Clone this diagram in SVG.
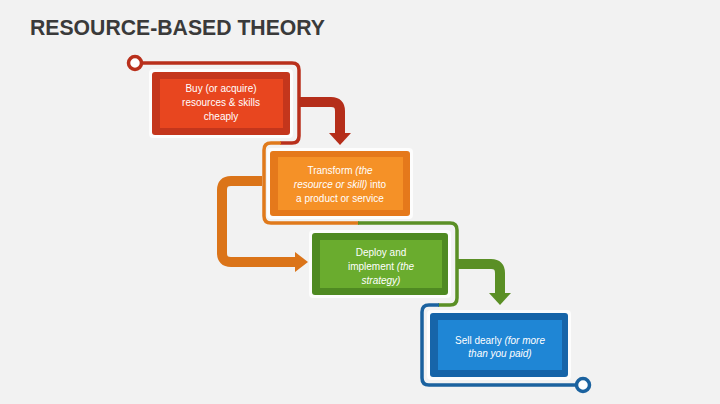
<svg xmlns="http://www.w3.org/2000/svg" width="720" height="404" viewBox="0 0 720 404">
<style>
.t{font-family:"Liberation Sans",Arial,sans-serif;font-size:10px;fill:#ffffff;text-anchor:middle}
.i{font-style:italic}
.ln{fill:none;stroke-width:3.5;stroke-linecap:butt}
.ar{fill:none;stroke-width:10}
.halo{fill:#ffffff;opacity:0.8}
</style>
<rect width="720" height="404" fill="#f2f2f2"/>
<text x="30" y="35" font-family="Liberation Sans,Arial,sans-serif" font-weight="bold" font-size="22" fill="#3a3a3a" textLength="295" lengthAdjust="spacingAndGlyphs">RESOURCE-BASED THEORY</text>
<g id="connectors">
<path class="ln" stroke="#b9301c" d="M141 63 H292 Q299 63 299 70 V136 Q299 143 292 143 H280"/>
<path class="ln" stroke="#e07a1c" d="M281 143 H271 Q264 143 264 150 V216 Q264 223 271 223 H359"/>
<path class="ln" stroke="#5a8f25" d="M358 223 H450 Q457 223 457 230 V298 Q457 305 450 305 H438"/>
<path class="ln" stroke="#1b629f" d="M439 305 H429 Q422 305 422 312 V378 Q422 385 429 385 H577"/>
<circle cx="135" cy="63" r="6.5" fill="#ffffff" stroke="#b9301c" stroke-width="3.5"/>
<circle cx="583" cy="385" r="6.5" fill="#ffffff" stroke="#1b629f" stroke-width="3.5"/>
<path class="ar" stroke="#b52e1a" d="M299 102 H331 Q340 102 340 111 V134"/>
<polygon fill="#b52e1a" points="329,133 351,133 340,145"/>
<path class="ar" stroke="#db7419" d="M262 181 H231 Q222 181 222 190 V253 Q222 262 231 262 H296"/>
<polygon fill="#db7419" points="295,252 295,272 308,262"/>
<path class="ar" stroke="#5a8f25" d="M457 264 H491 Q500 264 500 273 V294"/>
<polygon fill="#5a8f25" points="489,293 511,293 500,305"/>
</g>
<g id="node1">
<rect class="halo" x="149" y="69" width="144" height="69" rx="4"/>
<rect x="152" y="72" width="138" height="63" rx="3" fill="#c4361c"/>
<rect x="160" y="79" width="123" height="49" fill="#e8461f"/>
<text class="t" x="221" y="92">Buy (or acquire)</text>
<text class="t" x="221" y="106">resources &amp; skills</text>
<text class="t" x="221" y="120">cheaply</text>
</g>
<g id="node2">
<rect class="halo" x="267" y="148" width="146" height="71" rx="4"/>
<rect x="270" y="151" width="140" height="65" rx="3" fill="#e5791b"/>
<rect x="278" y="157" width="125" height="53" fill="#f59127"/>
<text class="t" x="340" y="174">Transform <tspan class="i">(the</tspan></text>
<text class="t" x="340" y="188"><tspan class="i">resource or skill)</tspan> into</text>
<text class="t" x="340" y="202">a product or service</text>
</g>
<g id="node3">
<rect class="halo" x="309" y="230" width="142" height="68" rx="4"/>
<rect x="312" y="233" width="136" height="62" rx="3" fill="#4f8a22"/>
<rect x="320" y="240" width="122" height="48" fill="#6aac2e"/>
<text class="t" x="381" y="256">Deploy and</text>
<text class="t" x="381" y="270">implement <tspan class="i">(the</tspan></text>
<text class="t" x="381" y="284"><tspan class="i">strategy)</tspan></text>
</g>
<g id="node4">
<rect class="halo" x="427" y="310" width="144" height="70" rx="4"/>
<rect x="430" y="313" width="138" height="64" rx="3" fill="#1765a9"/>
<rect x="438" y="320" width="124" height="50" fill="#1f86d5"/>
<text class="t" x="500" y="344">Sell dearly <tspan class="i">(for more</tspan></text>
<text class="t" x="500" y="357"><tspan class="i">than you paid)</tspan></text>
</g>
</svg>
